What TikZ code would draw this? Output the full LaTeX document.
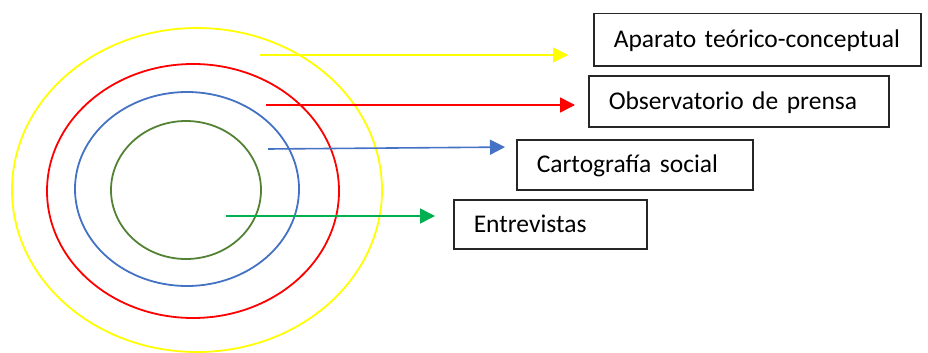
\documentclass[tikz,border=0pt]{standalone}
\usepackage{fontspec}
\setmainfont{Carlito}
\usetikzlibrary{arrows.meta, positioning, shapes.geometric}
\definecolor{ringyellow}{RGB}{255,255,0}
\definecolor{ringred}{RGB}{255,0,0}
\definecolor{ringblue}{RGB}{68,114,196}
\definecolor{ringgreen}{RGB}{84,130,53}
\definecolor{arrowgreen}{RGB}{0,176,80}

\begin{document}
\begin{tikzpicture}[x=1pt, y=-1pt]
\tikzstyle{ring}=[ellipse, inner sep=0pt, line width=1.8pt]
\tikzstyle{level}=[rectangle, anchor=north west, draw=black!85, line width=1.5pt, inner xsep=20pt, inner ysep=0pt, align=left, text height=16pt, text depth=0pt, font=\fontsize{25.5}{29}\selectfont]
\tikzstyle{connect}=[draw, line width=1.6pt, -{Triangle[length=15pt, width=15pt]}]
\useasboundingbox (0,0) rectangle (928,353);
% circles
\node[ring, draw=ringyellow, minimum width=370pt, minimum height=324pt] (outer) at (197,190) {};
\node[ring, draw=ringred, minimum width=292pt, minimum height=254pt] (second) at (193,191) {};
\node[ring, draw=ringblue, minimum width=224pt, minimum height=194pt] (third) at (187,189) {};
\node[ring, draw=ringgreen, minimum width=150pt, minimum height=138pt] (inner) at (186,190) {};
% boxes
\node[level, text width=287pt, minimum height=52pt] (teoria) at (593,13) {Aparato teórico-conceptual};
\node[level, text width=260pt, minimum height=51pt] (prensa) at (588,75) {Observatorio de prensa};
\node[level, text width=196pt, minimum height=50pt] (carto) at (516,139) {Cartografía social};
\node[level, text width=153pt, minimum height=49pt] (entre) at (453,199) {Entrevistas};
% arrows
\coordinate (ystart) at (260,55);
\coordinate (rstart) at (266,105);
\coordinate (bstart) at (268,149);
\coordinate (gstart) at (226,216);
\path (ystart) edge [connect, ringyellow, shorten >=25pt] (ystart -| teoria.west)
      (rstart) edge [connect, ringred, shorten >=13pt] (rstart -| prensa.west)
      (bstart) edge [connect, ringblue, shorten >=11pt] ([yshift=2pt]bstart -| carto.west)
      (gstart) edge [connect, arrowgreen, shorten >=18pt] (gstart -| entre.west);
\end{tikzpicture}
\end{document}
